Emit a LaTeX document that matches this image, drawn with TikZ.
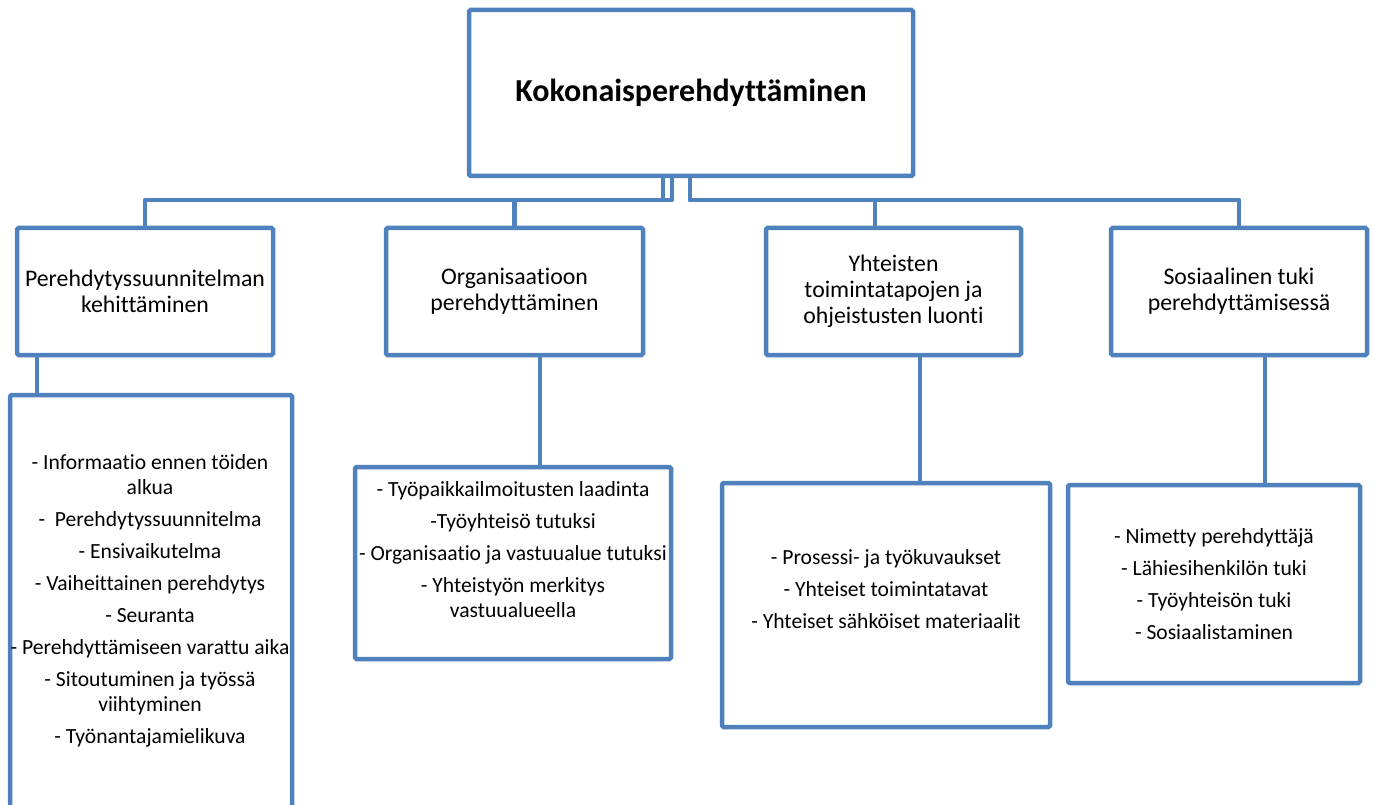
\documentclass[tikz,border=0pt]{standalone}
\usepackage{fontspec}
\setmainfont{Carlito}[Ligatures=NoCommon]
\definecolor{boxblue}{HTML}{4F81BD}
\tikzset{
  box/.style={draw=boxblue, line width=4.5pt, fill=white, inner sep=0pt,
    rounded corners=1.5pt},
  link/.style={draw=boxblue, line width=4.5pt, line join=round},
  headtext/.style={align=center, font=\fontsize{23.8}{26}\selectfont},
  listtext/.style={align=center, font=\fontsize{21.6}{25}\selectfont},
}
\begin{document}
\begin{tikzpicture}[x=1pt, y=-1pt]
\useasboundingbox (0,0) rectangle (1374,805);
\clip (0,0) rectangle (1374,805);

% connector routing points
\coordinate (bus) at (0,200);
\coordinate (t1) at (663,0);
\coordinate (t2) at (672,0);
\coordinate (t3) at (690,0);
\coordinate (cyh) at (875,0);
\coordinate (ca) at (37,0);
\coordinate (cb) at (540,0);
\coordinate (cc) at (920,0);
\coordinate (cd) at (1265,0);

% top box
\node[box, minimum width=444pt, minimum height=166pt] (top) at (691,93)
  {\fontsize{32}{36}\selectfont\bfseries Kokonaisperehdyttäminen};

% second level
\node[box, minimum width=256pt, minimum height=127pt, headtext] (A) at (145,291.5)
  {Perehdytyssuunnitelman\\kehittäminen};
\node[box, minimum width=257pt, minimum height=127pt, headtext] (B) at (514.5,291.5)
  {Organisaatioon\\perehdyttäminen};
\node[box, minimum width=255pt, minimum height=127pt, headtext] (C) at (893.5,291.5)
  {Yhteisten\\toimintatapojen ja\\ohjeistusten luonti};
\node[box, minimum width=256pt, minimum height=127pt, headtext] (D) at (1239,291.5)
  {Sosiaalinen tuki\\perehdyttämisessä};

% list boxes
\node[box, minimum width=282pt, minimum height=415pt] (A2) at (151,602.5) {};
\node[box, minimum width=316pt, minimum height=192pt] (B2) at (513,563) {};
\node[box, minimum width=328pt, minimum height=244pt] (C2) at (886,605) {};
\node[box, minimum width=292pt, minimum height=198pt] (D2) at (1214,584) {};

% list texts
\node[listtext] (A2t) at (150,601) {%
  - Informaatio ennen töiden\\alkua\\[7pt]
  -\ \ Perehdytyssuunnitelma\\[7pt]
  - Ensivaikutelma\\[7pt]
  - Vaiheittainen perehdytys\\[7pt]
  - Seuranta\\[7pt]
  - Perehdyttämiseen varattu aika\\[7pt]
  - Sitoutuminen ja työssä\\viihtyminen\\[7pt]
  - Työnantajamielikuva};
\node[listtext] (B2t) at (513,550) {%
  - Työpaikkailmoitusten laadinta\\[7pt]
  -Työyhteisö tutuksi\\[7pt]
  - Organisaatio ja vastuualue tutuksi\\[7pt]
  - Yhteistyön merkitys\\vastuualueella};
\node[listtext] (C2t) at (886,589) {%
  - Prosessi- ja työkuvaukset\\[7pt]
  - Yhteiset toimintatavat\\[7pt]
  - Yhteiset sähköiset materiaalit};
\node[listtext] (D2t) at (1214,584) {%
  - Nimetty perehdyttäjä\\[7pt]
  - Lähiesihenkilön tuki\\[7pt]
  - Työyhteisön tuki\\[7pt]
  - Sosiaalistaminen};

% connectors from the top box
\draw[link] (t1 |- top.south) -- (t1 |- bus) -| (A.north);
\draw[link] (t2 |- top.south) -- (t2 |- bus) -| (B.north);
\draw[link] (t3 |- top.south) -- (t3 |- bus) -| (cyh |- C.north);
\draw[link] (t3 |- top.south) -- (t3 |- bus) -| (D.north);

% connectors down to the list boxes
\draw[link] (ca |- A.south) -- (ca |- A2.north);
\draw[link] (cb |- B.south) -- (cb |- B2.north);
\draw[link] (cc |- C.south) -- (cc |- C2.north);
\draw[link] (cd |- D.south) -- (cd |- D2.north);
\end{tikzpicture}
\end{document}
